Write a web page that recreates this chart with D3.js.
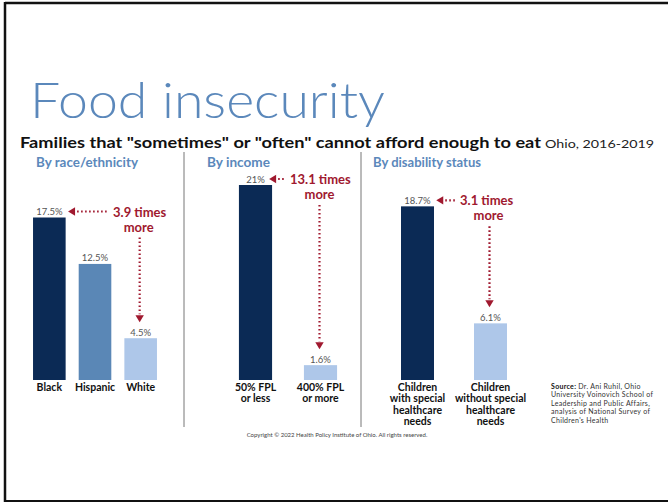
<!DOCTYPE html>
<html><head><meta charset="utf-8">
<script src="https://cdn.jsdelivr.net/npm/d3@7"></script>
<style>body{margin:0;background:#fff}svg{display:block}</style>
</head><body>
<script>
// ---- data ----
const panelTitles = ["By race/ethnicity", "By income", "By disability status"];
const raceCats = ["Black", "Hispanic", "White"];
const raceVals = [17.5, 12.5, 4.5];
const raceLabels = ["17.5%", "12.5%", "4.5%"];
const incomeCats = ["50% FPL|or less", "400% FPL|or more"];
const incomeVals = [21, 1.6];
const incomeLabels = ["21%", "1.6%"];
const disabCats = ["Children|with special|healthcare|needs", "Children|without special|healthcare|needs"];
const disabVals = [18.7, 6.1];
const disabLabels = ["18.7%", "6.1%"];
const ratioLabels = ["3.9 times", "13.1 times", "3.1 times"];
const sourceLines = ["Dr. Ani Ruhil, Ohio", "University Voinovich School of", "Leadership and Public Affairs,", "analysis of National Survey of", "Children's Health"];

const W = 668, H = 502;
const navy = "#0b2a55", mid = "#5a87b6", light = "#aec7e9", blueT = "#5b88bb", red = "#a0192f";
const font = "Lato, 'Open Sans', sans-serif";

const svg = d3.select("body").append("svg").attr("width", W).attr("height", H).style("font-family", font);

// frame
svg.append("rect").attr("x", 0).attr("y", 0).attr("width", W).attr("height", H).attr("fill", "#fff");
svg.append("line").attr("x1", 5).attr("x2", W).attr("y1", 3).attr("y2", 3).attr("stroke", "#111").attr("stroke-width", 2.5);
svg.append("line").attr("x1", 5).attr("x2", 5).attr("y1", 2).attr("y2", H).attr("stroke", "#111").attr("stroke-width", 2.5);
svg.append("line").attr("x1", 5).attr("x2", W).attr("y1", 501).attr("y2", 501).attr("stroke", "#111").attr("stroke-width", 2);

// titles
svg.append("text").attr("x", 30).attr("y", 118).text("Food insecurity")
  .attr("font-size", 50).attr("font-weight", 300).attr("fill", blueT)
  .attr("textLength", 355).attr("lengthAdjust", "spacingAndGlyphs");
svg.append("text").attr("x", 20).attr("y", 148).text('Families that "sometimes" or "often" cannot afford enough to eat')
  .attr("font-size", 15).attr("font-weight", 700).attr("fill", "#111")
  .attr("textLength", 521).attr("lengthAdjust", "spacingAndGlyphs");
svg.append("text").attr("x", 545).attr("y", 148).text("Ohio, 2016-2019")
  .attr("font-size", 11.5).attr("fill", "#222")
  .attr("textLength", 109).attr("lengthAdjust", "spacingAndGlyphs");

// dividers
[184, 361].forEach(x => svg.append("line").attr("x1", x).attr("x2", x).attr("y1", 152).attr("y2", 427).attr("stroke", "#777").attr("stroke-width", 1));

// shared y scale
const y = d3.scaleLinear().domain([0, 21]).range([380, 185]);

const panels = [
  {title: panelTitles[0], tx: 36, tl: 102, cats: raceCats, vals: raceVals, labels: raceLabels, range: [26.5, 163.5], pi: 0.286, colors: [navy, mid, light]},
  {title: panelTitles[1], tx: 207, tl: 63, cats: incomeCats, vals: incomeVals, labels: incomeLabels, range: [223, 353], pi: 0.49, colors: [navy, light]},
  {title: panelTitles[2], tx: 373, tl: 108, cats: disabCats, vals: disabVals, labels: disabLabels, range: [381, 527], pi: 0.548, colors: [navy, light]}
];

function arrowHead(g, x, yy, dir) {
  const s = 4.2, l = 7;
  let d;
  if (dir === "left") d = `M${x},${yy} L${x + l},${yy - s} L${x + l},${yy + s} Z`;
  else d = `M${x},${yy} L${x - s},${yy - l} L${x + s},${yy - l} Z`;
  g.append("path").attr("d", d).attr("fill", red);
}
function dotted(g, x1, y1, x2, y2) {
  g.append("line").attr("x1", x1).attr("y1", y1).attr("x2", x2).attr("y2", y2)
    .attr("stroke", red).attr("stroke-width", 2.2).attr("stroke-dasharray", "1.6,2.4");
}

panels.forEach((p, pi) => {
  const g = svg.append("g");
  g.append("text").attr("x", p.tx).attr("y", 167).text(p.title)
    .attr("font-size", 12.5).attr("font-weight", 700).attr("fill", blueT)
    .attr("textLength", p.tl).attr("lengthAdjust", "spacingAndGlyphs");
  const x = d3.scaleBand().domain(p.cats).range(p.range).paddingInner(p.pi).paddingOuter(p.pi / 2);
  g.selectAll("rect.bar").data(p.vals).join("rect").attr("class", "bar")
    .attr("x", (d, i) => x(p.cats[i])).attr("width", x.bandwidth())
    .attr("y", d => y(d)).attr("height", d => y(0) - y(d))
    .attr("fill", (d, i) => p.colors[i]);
  g.selectAll("text.val").data(p.vals).join("text").attr("class", "val")
    .attr("x", (d, i) => x(p.cats[i]) + x.bandwidth() / 2).attr("y", d => y(d) - 2.5)
    .attr("text-anchor", "middle").attr("font-size", 9.5).attr("fill", "#555")
    .text((d, i) => p.labels[i]);
  p.cats.forEach(c => {
    const t = g.append("text").attr("x", x(c) + x.bandwidth() / 2).attr("y", 391)
      .attr("text-anchor", "middle").attr("font-size", 10.5).attr("font-weight", 700).attr("fill", "#111");
    c.split("|").forEach((ln, k) => t.append("tspan").attr("x", x(c) + x.bandwidth() / 2).attr("dy", k === 0 ? 0 : 11.3).text(ln));
  });
  // annotation
  const first = p.cats[0], last = p.cats[p.cats.length - 1];
  const top = y(p.vals[0]);
  const ay = top - 6;
  const lx = x(last) + x.bandwidth() / 2;
  const labelW = p.labels[0].length * 5.1;
  const tipX = x(first) + x.bandwidth() / 2 + labelW / 2 + 6;
  const ann = svg.append("g");
  const tx0 = pi === 0 ? 113 : (pi === 1 ? 290 : 460);
  ann.append("text").attr("x", tx0).attr("y", ay + 5).text(ratioLabels[pi])
    .attr("font-size", 13).attr("font-weight", 700).attr("fill", red);
  ann.append("text").attr("x", lx + (pi === 1 ? -1 : -2)).attr("y", ay + 20).text("more")
    .attr("text-anchor", "middle").attr("font-size", 13).attr("font-weight", 700).attr("fill", red);
  arrowHead(ann, tipX, ay, "left");
  dotted(ann, tipX + 9, ay, tx0 - 4, ay);
  const vEnd = y(p.vals[p.vals.length - 1]) - 17;
  dotted(ann, lx - 1, ay + 26, lx - 1, vEnd - 7);
  arrowHead(ann, lx - 1, vEnd + 1, "down");
});

// source
const src = svg.append("text").attr("x", 551).attr("y", 389).attr("font-size", 7).attr("letter-spacing", 0.3).attr("fill", "#333");
sourceLines.forEach((ln, i) => {
  const ts = src.append("tspan").attr("x", 551).attr("dy", i === 0 ? 0 : 8.4);
  if (i === 0) { ts.append("tspan").attr("font-weight", 700).attr("fill", "#111").text("Source: "); ts.append("tspan").text(ln); }
  else ts.text(ln);
});

svg.append("text").attr("x", 337).attr("y", 437).attr("text-anchor", "middle").attr("font-size", 6).attr("fill", "#444")
  .text("Copyright © 2022 Health Policy Institute of Ohio. All rights reserved.");
</script>
</body></html>
